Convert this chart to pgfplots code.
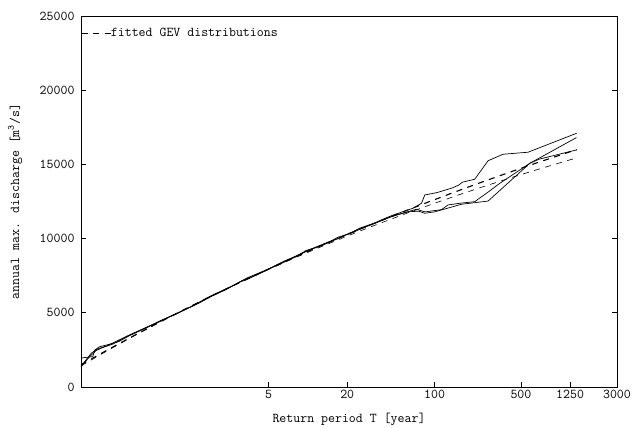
\documentclass[border=0pt]{standalone}
\usepackage{fontspec}
\renewcommand{\familydefault}{\ttdefault}
\usepackage{pgfplots}
\pgfplotsset{compat=1.18}
\begin{document}
\ttfamily
\begin{tikzpicture}
\begin{axis}[
  name=ax, at={(0pt,0pt)}, anchor=south west,
  scale only axis, width=536pt, height=371pt,
  xmin=-2, xmax=8.0062, ymin=0, ymax=25000,
  xtick={1.49994,2.97020,4.60015,6.21361,7.13050,8.0062},
  xticklabels={5,20,100,500,1250,3000},
  ytick={0,5000,10000,15000,20000,25000},
  tick align=inside, major tick length=5pt,
  xtick pos=left, ytick pos=both,
  axis line style={line width=0.8pt},
  every tick/.style={line width=0.8pt, black},
  /pgf/number format/assume math mode=true,
  /pgf/number format/1000 sep={},
  scaled y ticks=false,
  tick label style={font=\ttfamily\fontsize{13.5}{14}\selectfont},
  yticklabel style={xshift=-3pt},
  xlabel={Return period T [year]},
  ylabel={annual max. discharge [m\textsuperscript{3}/s]},
  every axis x label/.style={at={(axis description cs:0.5,-0.087)}, anchor=center,
     font=\ttfamily\fontsize{13.5}{14}\selectfont},
  every axis y label/.style={at={(axis description cs:-0.123,0.5)}, rotate=90, anchor=center,
     font=\ttfamily\fontsize{13.5}{14}\selectfont},
  legend style={at={(axis description cs:0,0.954)}, anchor=west, draw=none, fill=none,
     inner sep=0pt, font=\ttfamily\fontsize{13.5}{14}\selectfont, nodes={inner sep=0pt}},
  legend image code/.code={\draw[#1] (0pt,0pt) -- (29pt,0pt);},
  legend cell align=left,
]
\addlegendimage{black, line width=0.7pt, dash pattern=on 6pt off 5.5pt}
\addlegendentry{fitted GEV distributions}

% fitted GEV (thin dashed)
\addplot[black, line width=0.6pt, dash pattern=on 6pt off 5.5pt] coordinates {
(-2,1425) (-1.5,2464) (-1,3463) (-0.5,4425) (0,5350) (0.5,6240) (1,7097) (1.5,7921)
(2,8714) (2.5,9478) (3,10213) (3.5,10919) (4,11599) (4.5,12253) (5,12882) (5.5,13488)
(6,14071) (6.5,14632) (7,15172) (7.254,15438)};
% fitted GEV (bold dashed)
\addplot[black, line width=1.1pt, dash pattern=on 6pt off 5.5pt] coordinates {
(-2,1504) (-1.5,2509) (-1,3485) (-0.5,4431) (0,5350) (0.5,6241) (1,7107) (1.5,7946)
(2,8761) (2.5,9552) (3,10319) (3.5,11064) (4,11787) (4.5,12488) (5,13169) (5.5,13829)
(6,14470) (6.5,15092) (7,15696) (7.254,15995)};

% empirical A
\addplot[black, line width=0.7pt] coordinates {
(-2.0,1950) (-1.78,2050) (-1.74,2500) (-1.65,2720) (-1.5,2850) (-1.3,3050) (-1.1,3450)
(-0.8,3950) (-0.5,4500) (-0.2,4950) (0.1,5500) (0.4,6100) (0.7,6600) (0.9,6950)
(1.1,7350) (1.4,7800) (1.7,8250) (2.0,8800) (2.2,9150) (2.4,9450) (2.6,9750)
(2.8,10000) (3.0,10350) (3.2,10650) (3.4,10900) (3.6,11250) (3.8,11550) (4.0,11800)
(4.2,12050) (4.356,12380) (4.418,12940) (4.64,13095) (4.92,13400) (5.05,13600)
(5.12,13800) (5.35,14000) (5.6,15250) (5.88,15684) (6.345,15820) (7.254,17100)};
% empirical B
\addplot[black, line width=0.7pt] coordinates {
(-2.0,1380) (-1.81,2270) (-1.7,2550) (-1.5,2800) (-1.3,3150) (-1.1,3500) (-0.8,3980)
(-0.5,4450) (-0.2,4980) (0.1,5480) (0.4,6050) (0.7,6550) (0.95,7050) (1.1,7250)
(1.4,7750) (1.7,8300) (2.0,8750) (2.2,9200) (2.4,9400) (2.6,9700) (2.8,10100)
(3.0,10300) (3.2,10700) (3.4,10950) (3.6,11200) (3.8,11500) (4.0,11700) (4.26,11977)
(4.42,11800) (4.73,11950) (4.85,12267) (5.07,12380) (5.35,12490) (5.57,13055)
(5.82,13730) (6.38,15077) (7.25,16806)};
% empirical C
\addplot[black, line width=0.7pt] coordinates {
(-2.0,1350) (-1.85,2000) (-1.72,2450) (-1.6,2650) (-1.4,2900) (-1.2,3300) (-1.0,3650)
(-0.7,4150) (-0.4,4650) (-0.1,5150) (0.2,5650) (0.5,6250) (0.8,6750) (1.0,7150)
(1.2,7450) (1.5,7950) (1.8,8500) (2.1,8950) (2.3,9300) (2.5,9550) (2.7,9850)
(2.9,10200) (3.1,10450) (3.3,10800) (3.5,11050) (3.7,11350) (3.9,11600) (4.1,11800)
(4.3,11850) (4.42,11707) (4.6,11800) (4.73,11930) (5.10,12314) (5.35,12420)
(5.6,12530) (6.38,15077) (6.55,15350) (7.25,15974)};
\end{axis}
\pgfresetboundingbox
\path (-81pt,-41pt) rectangle (551pt,387pt);
\end{tikzpicture}
\end{document}
